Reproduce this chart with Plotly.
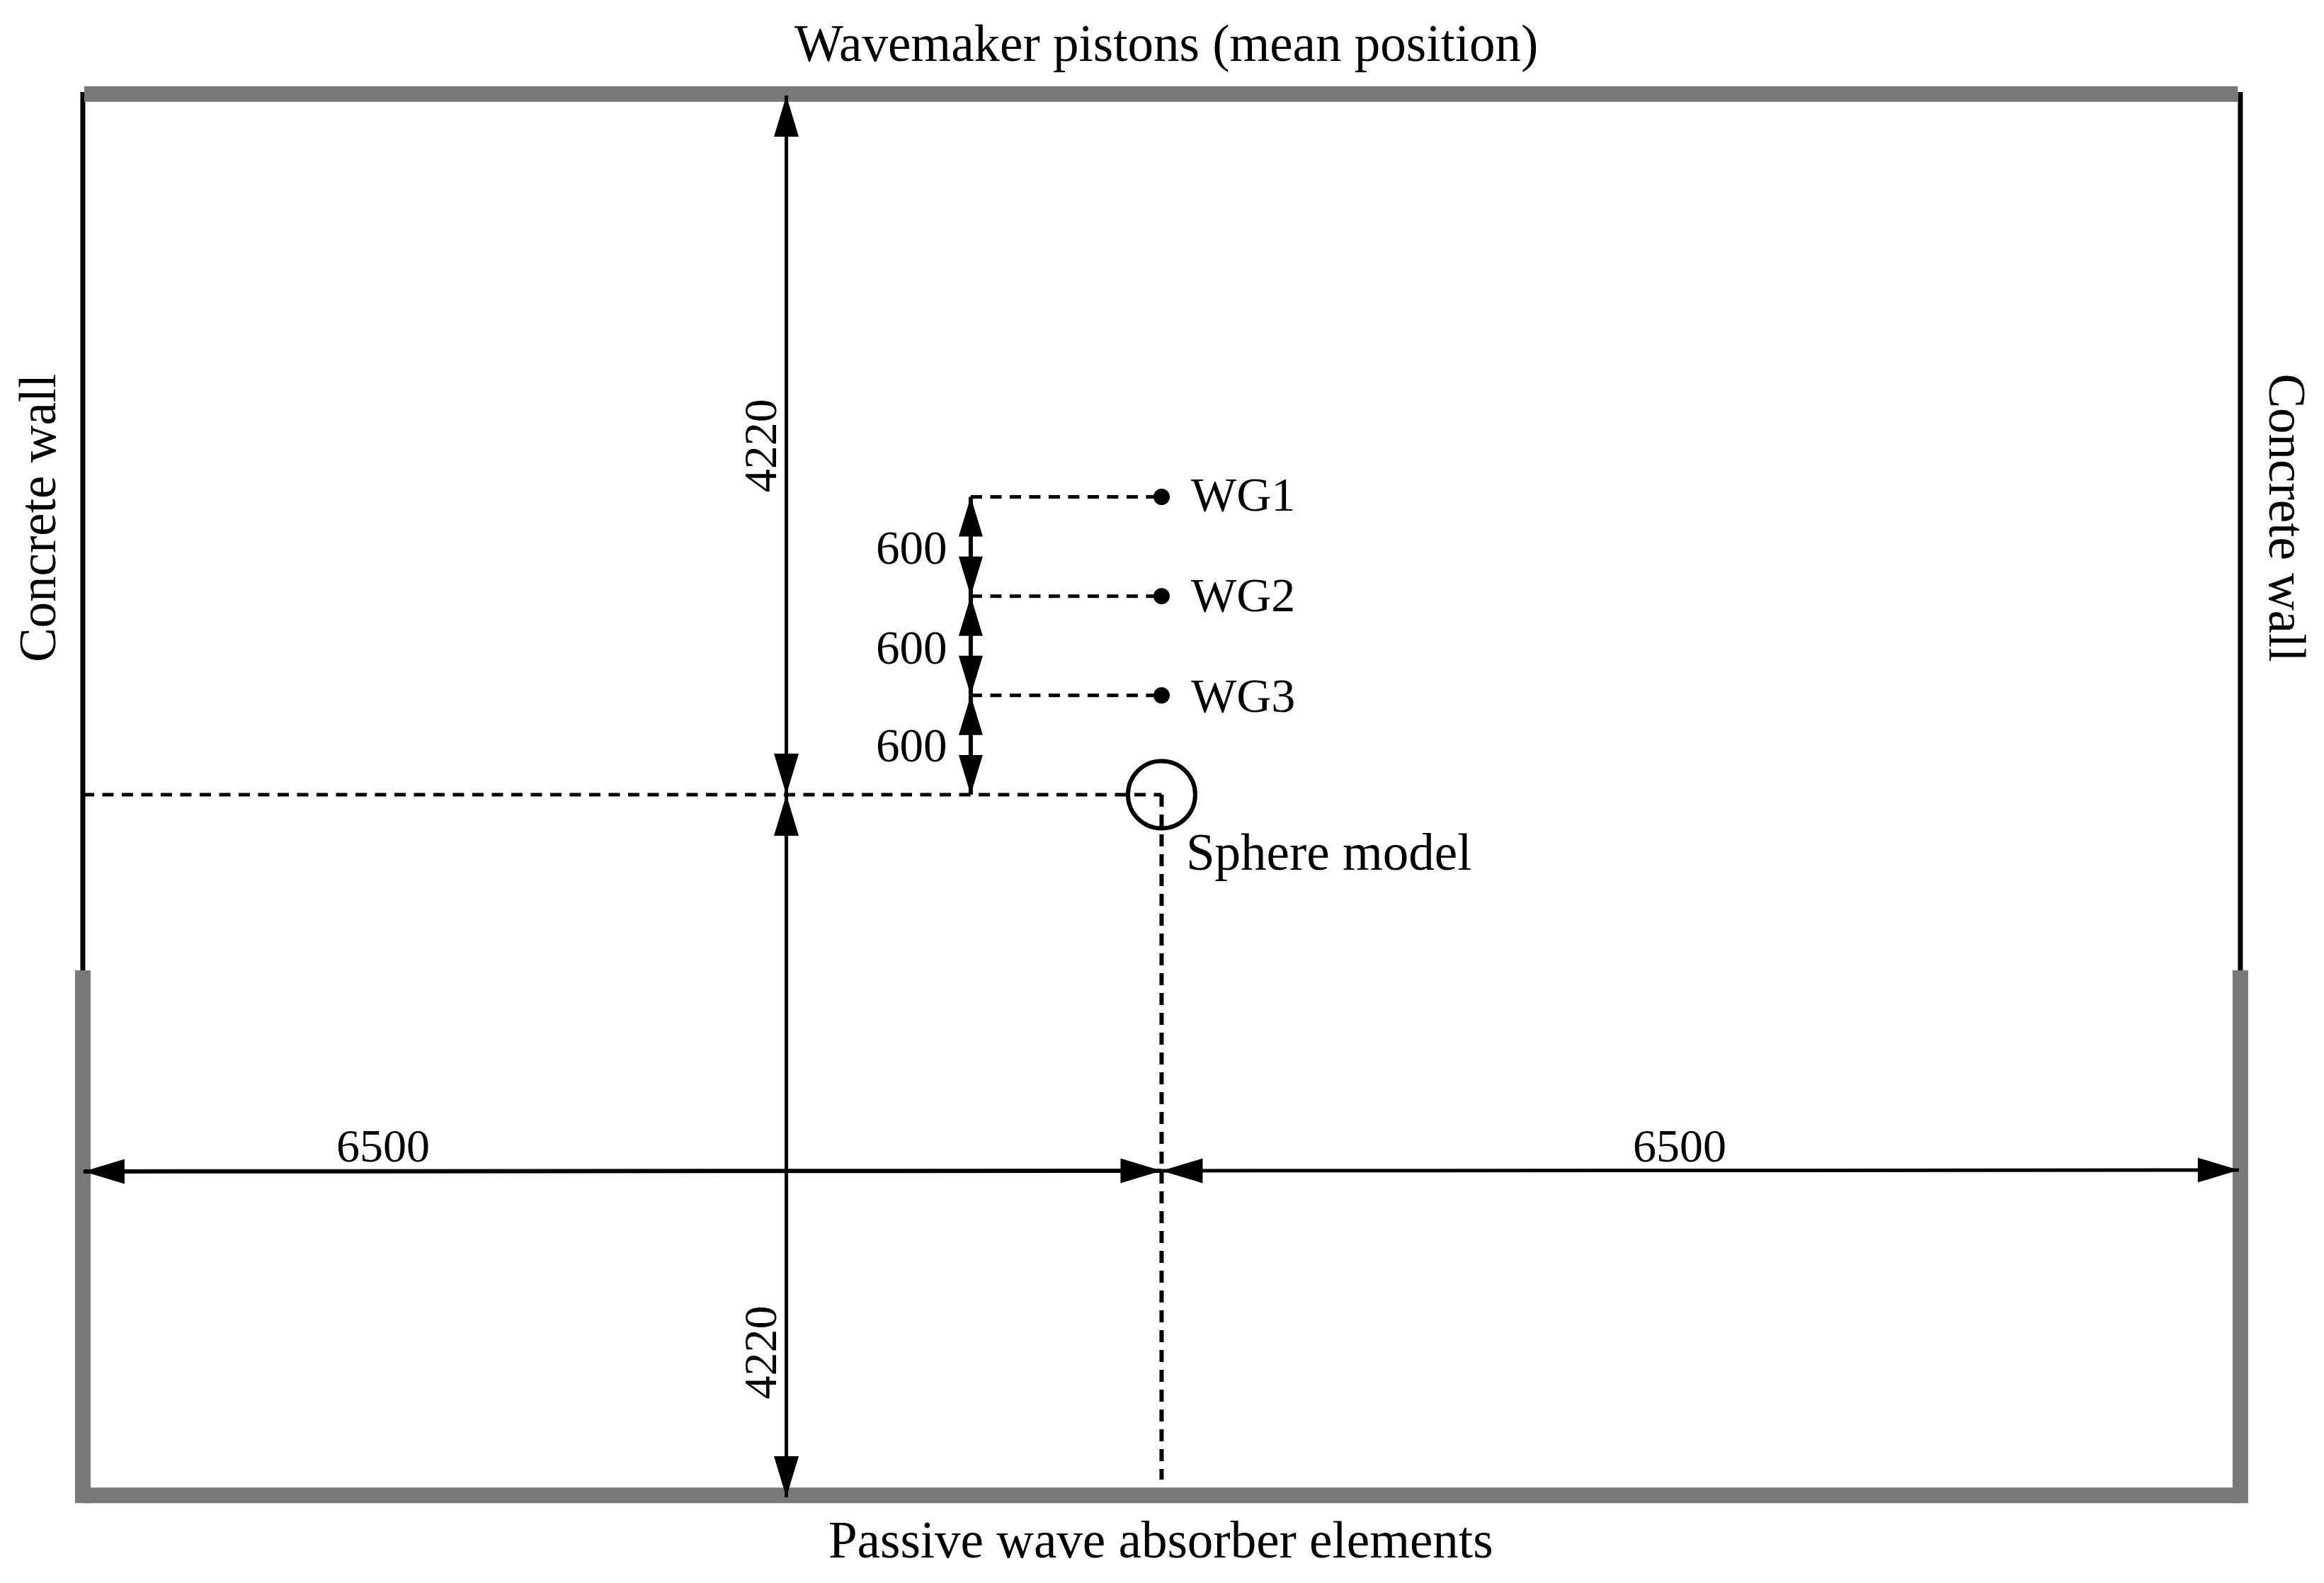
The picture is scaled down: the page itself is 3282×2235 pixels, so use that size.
import plotly.graph_objects as go

# Tank geometry, millimetres, measured from the sphere centre
half_width = 6500
half_length_up = 4225
half_length_down = 4247
wall_offset = 4235
absorber_start = -1062
piston_wall_top = 4247
gauge_names = ["WG1", "WG2", "WG3"]
gauge_y = [1800, 1200, 600]
spacing_x = -1150
span_x = -2261
span_y_left = -2277
span_y_mid = -2273
span_y_right = -2269
left_tip = -6496
right_tip = 6491

PX_X = 0.23438
PX_Y = 0.2336
X0 = -6999.0
X1 = X0 + 3282 / PX_X
Y1 = 4803.0
Y0 = Y1 - 2235 / PX_Y

GRAY = "#787878"
BLACK = "#000000"
FONT = "Liberation Serif"

fig = go.Figure()


def line(xs, ys, color=BLACK, width=5, dash=None):
    fig.add_trace(go.Scatter(x=xs, y=ys, mode="lines", hoverinfo="skip",
                             line=dict(color=color, width=width, dash=dash)))


def head(tx, ty, dx, dy, length=58, half=17.5):
    """Solid arrow head, tip at (tx, ty), pointing along (dx, dy); sizes in px."""
    bx, by = tx - dx * length / PX_X, ty - dy * length / PX_Y
    ox, oy = dy * half / PX_X, dx * half / PX_Y
    fig.add_trace(go.Scatter(x=[tx, bx + ox, bx - ox, tx], y=[ty, by + oy, by - oy, ty],
                             mode="lines", fill="toself", fillcolor=BLACK, hoverinfo="skip",
                             line=dict(color=BLACK, width=0)))


# Concrete side walls
line([-half_width, -half_width], [piston_wall_top, absorber_start], width=7)
line([half_width, half_width], [piston_wall_top, absorber_start], width=7)

# Wavemaker and absorbers
line([-half_width + 8, half_width - 16], [wall_offset, wall_offset], GRAY, 22)
line([-half_width, -half_width], [absorber_start, -wall_offset - 47], GRAY, 22)
line([half_width, half_width], [absorber_start, -wall_offset - 47], GRAY, 22)
line([-half_width, half_width], [-wall_offset, -wall_offset], GRAY, 22)

# Dashed leaders
DASH = "16px,11.5px"
line([-half_width, 0], [0, 0], width=5, dash=DASH)
line([0, 0], [0, -4140], width=6, dash="17px,11px")
for gy in gauge_y:
    line([spacing_x, 0], [gy, gy], width=5, dash=DASH)

# Long dimension lines
line([span_x, span_x], [half_length_up, -half_length_down], width=5)
line([left_tip, 0], [span_y_left, span_y_mid], width=6)
line([0, right_tip], [span_y_mid, span_y_right], width=5)
head(span_x, half_length_up, 0, 1)
head(span_x, 0, 0, -1)
head(span_x, 0, 0, 1)
head(span_x, -half_length_down, 0, -1)
head(left_tip, span_y_left, -1, 0)
head(0, span_y_mid, 1, 0)
head(0, span_y_mid, -1, 0)
head(right_tip, span_y_right, 1, 0)

# 600 spacing arrows
for top, bottom in zip(gauge_y, gauge_y[1:] + [0]):
    line([spacing_x, spacing_x], [top, bottom], width=6)
    head(spacing_x, top, 0, 1, 56, 17)
    head(spacing_x, bottom, 0, -1, 56, 17)

# Gauges and sphere
fig.add_trace(go.Scatter(x=[0, 0, 0], y=gauge_y, mode="markers", hoverinfo="skip",
                         marker=dict(color=BLACK, size=23)))
fig.add_trace(go.Scatter(x=[0], y=[0], mode="markers", hoverinfo="skip",
                         marker=dict(symbol="circle-open", size=95, color=BLACK, line=dict(width=6, color=BLACK))))

labels = [
    ("Wavemaker pistons (mean position)", 30, 4540, 0, "center", 73),
    ("Passive wave absorber elements", -4, -4505, 0, "center", 73),
    ("Concrete wall", -6770, 1672, -90, "center", 73),
    ("Concrete wall", 6782, 1672, 90, "center", 73),
    ("4220", -2420, 2110, -90, "center", 66),
    ("4220", -2420, -3370, -90, "center", 66),
    ("600", -1505, 1495, 0, "center", 67),
    ("600", -1505, 890, 0, "center", 67),
    ("600", -1505, 300, 0, "center", 67),
    ("6500", -4690, -2120, 0, "center", 66),
    ("6500", 3120, -2120, 0, "center", 66),
    ("WG1", 170, 1815, 0, "left", 68),
    ("WG2", 170, 1208, 0, "left", 68),
    ("WG3", 170, 600, 0, "left", 68),
    ("Sphere model", 140, -347, 0, "left", 73),
]
for text, x, y, angle, anchor, size in labels:
    fig.add_annotation(x=x, y=y, text=text, showarrow=False, textangle=angle,
                       xanchor=anchor, yanchor="middle",
                       font=dict(family=FONT, size=size, color=BLACK))

fig.update_layout(
    width=3282, height=2235, margin=dict(l=0, r=0, t=0, b=0),
    paper_bgcolor="white", plot_bgcolor="white", showlegend=False,
    xaxis=dict(range=[X0, X1], visible=False, fixedrange=True),
    yaxis=dict(range=[Y0, Y1], visible=False, fixedrange=True),
)
fig.write_html("out.html", config={"displayModeBar": False},
               post_script="document.body.style.margin='0';document.body.style.overflow='hidden';")
